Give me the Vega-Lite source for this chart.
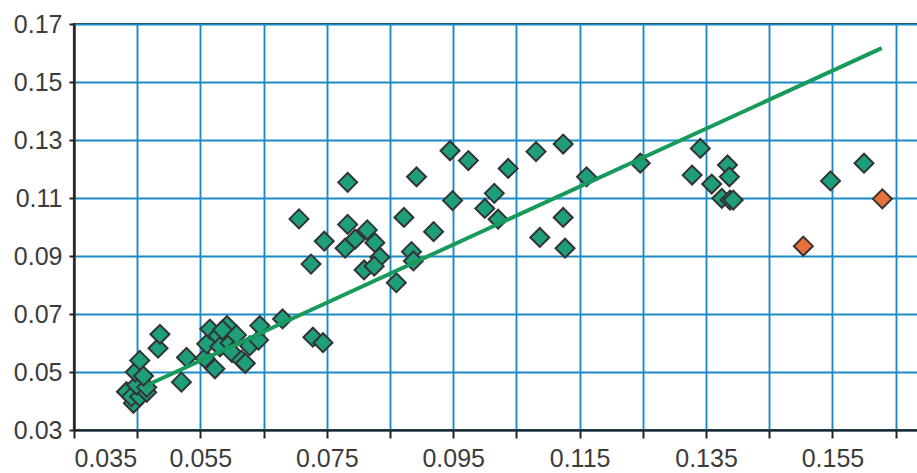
{
  "$schema": "https://vega.github.io/schema/vega-lite/v6.json",
  "width": 845,
  "height": 406,
  "autosize": "none",
  "padding": {"left": 74, "top": 24, "right": 0, "bottom": 43},
  "background": "white",
  "config": {
    "view": {"stroke": "#222222", "strokeWidth": 2.2},
    "axis": {
      "grid": true,
      "gridColor": "#1b8bc6",
      "gridWidth": 1.9,
      "gridOpacity": 1,
      "domainColor": "#222222",
      "domainWidth": 2.2,
      "tickColor": "#222222",
      "tickWidth": 2,
      "labelFont": "Liberation Sans",
      "labelFontSize": 25,
      "labelColor": "#3c3c3c",
      "title": null
    }
  },
  "layer": [
    {
      "data": {
        "values": [
          {"x": 0.0433, "y": 0.0432, "g": "a"},
          {"x": 0.0444, "y": 0.0392, "g": "a"},
          {"x": 0.0441, "y": 0.0415, "g": "a"},
          {"x": 0.0454, "y": 0.0415, "g": "a"},
          {"x": 0.0465, "y": 0.0430, "g": "a"},
          {"x": 0.0449, "y": 0.0455, "g": "a"},
          {"x": 0.0465, "y": 0.0447, "g": "a"},
          {"x": 0.0447, "y": 0.0500, "g": "a"},
          {"x": 0.0460, "y": 0.0486, "g": "a"},
          {"x": 0.0454, "y": 0.0540, "g": "a"},
          {"x": 0.0483, "y": 0.0582, "g": "a"},
          {"x": 0.0486, "y": 0.0630, "g": "a"},
          {"x": 0.0520, "y": 0.0465, "g": "a"},
          {"x": 0.0528, "y": 0.0550, "g": "a"},
          {"x": 0.0557, "y": 0.0547, "g": "a"},
          {"x": 0.0573, "y": 0.0511, "g": "a"},
          {"x": 0.0560, "y": 0.0597, "g": "a"},
          {"x": 0.0565, "y": 0.0648, "g": "a"},
          {"x": 0.0578, "y": 0.0625, "g": "a"},
          {"x": 0.0592, "y": 0.0660, "g": "a"},
          {"x": 0.0581, "y": 0.0587, "g": "a"},
          {"x": 0.0585, "y": 0.0645, "g": "a"},
          {"x": 0.0597, "y": 0.0600, "g": "a"},
          {"x": 0.0607, "y": 0.0628, "g": "a"},
          {"x": 0.0600, "y": 0.0567, "g": "a"},
          {"x": 0.0615, "y": 0.0541, "g": "a"},
          {"x": 0.0621, "y": 0.0530, "g": "a"},
          {"x": 0.0628, "y": 0.0590, "g": "a"},
          {"x": 0.0642, "y": 0.0610, "g": "a"},
          {"x": 0.0644, "y": 0.0660, "g": "a"},
          {"x": 0.0680, "y": 0.0683, "g": "a"},
          {"x": 0.0728, "y": 0.0620, "g": "a"},
          {"x": 0.0744, "y": 0.0601, "g": "a"},
          {"x": 0.0706, "y": 0.1028, "g": "a"},
          {"x": 0.0725, "y": 0.0872, "g": "a"},
          {"x": 0.0746, "y": 0.0951, "g": "a"},
          {"x": 0.0783, "y": 0.1154, "g": "a"},
          {"x": 0.0783, "y": 0.1009, "g": "a"},
          {"x": 0.0779, "y": 0.0927, "g": "a"},
          {"x": 0.0795, "y": 0.0958, "g": "a"},
          {"x": 0.0814, "y": 0.0990, "g": "a"},
          {"x": 0.0826, "y": 0.0946, "g": "a"},
          {"x": 0.0834, "y": 0.0896, "g": "a"},
          {"x": 0.0809, "y": 0.0852, "g": "a"},
          {"x": 0.0825, "y": 0.0865, "g": "a"},
          {"x": 0.0860, "y": 0.0808, "g": "a"},
          {"x": 0.0872, "y": 0.1033, "g": "a"},
          {"x": 0.0884, "y": 0.0915, "g": "a"},
          {"x": 0.0887, "y": 0.0883, "g": "a"},
          {"x": 0.0892, "y": 0.1173, "g": "a"},
          {"x": 0.0919, "y": 0.0984, "g": "a"},
          {"x": 0.0945, "y": 0.1263, "g": "a"},
          {"x": 0.0974, "y": 0.1229, "g": "a"},
          {"x": 0.0949, "y": 0.1091, "g": "a"},
          {"x": 0.1000, "y": 0.1064, "g": "a"},
          {"x": 0.1015, "y": 0.1116, "g": "a"},
          {"x": 0.1021, "y": 0.1027, "g": "a"},
          {"x": 0.1037, "y": 0.1202, "g": "a"},
          {"x": 0.1081, "y": 0.1260, "g": "a"},
          {"x": 0.1087, "y": 0.0964, "g": "a"},
          {"x": 0.1124, "y": 0.1286, "g": "a"},
          {"x": 0.1124, "y": 0.1033, "g": "a"},
          {"x": 0.1127, "y": 0.0927, "g": "a"},
          {"x": 0.1161, "y": 0.1173, "g": "a"},
          {"x": 0.1246, "y": 0.1220, "g": "a"},
          {"x": 0.1341, "y": 0.1271, "g": "a"},
          {"x": 0.1328, "y": 0.1179, "g": "a"},
          {"x": 0.1384, "y": 0.1214, "g": "a"},
          {"x": 0.1387, "y": 0.1173, "g": "a"},
          {"x": 0.1359, "y": 0.1148, "g": "a"},
          {"x": 0.1375, "y": 0.1099, "g": "a"},
          {"x": 0.1388, "y": 0.1093, "g": "a"},
          {"x": 0.1393, "y": 0.1093, "g": "a"},
          {"x": 0.1547, "y": 0.1159, "g": "a"},
          {"x": 0.1600, "y": 0.1220, "g": "a"},
          {"x": 0.1504, "y": 0.0934, "g": "b"},
          {"x": 0.1629, "y": 0.1097, "g": "b"}
        ]
      },
      "mark": {"type": "point", "shape": "diamond", "filled": true, "size": 360, "stroke": "#333333", "strokeWidth": 2, "opacity": 1},
      "encoding": {
        "x": {
          "field": "x", "type": "quantitative",
          "scale": {"domain": [0.035, 0.1687], "nice": false, "zero": false},
          "axis": {
            "values": [0.035, 0.045, 0.055, 0.065, 0.075, 0.085, 0.095, 0.105, 0.115, 0.125, 0.135, 0.145, 0.155, 0.165],
            "labelExpr": "round(datum.value * 1000) % 20 == 15 ? format(datum.value, '.3f') : ''",
            "tickSize": 8,
            "labelPadding": 8
          }
        },
        "y": {
          "field": "y", "type": "quantitative",
          "scale": {"domain": [0.03, 0.17], "nice": false, "zero": false},
          "axis": {
            "values": [0.03, 0.05, 0.07, 0.09, 0.11, 0.13, 0.15, 0.17],
            "format": ".2f",
            "tickSize": 5,
            "labelPadding": 7
          }
        },
        "color": {
          "field": "g", "type": "nominal",
          "scale": {"domain": ["a", "b"], "range": ["#1f9e7c", "#e8703a"]},
          "legend": null
        }
      }
    },
    {
      "data": {
        "values": [
          {"x": 0.0466, "y": 0.0455},
          {"x": 0.1628, "y": 0.1617}
        ]
      },
      "mark": {"type": "line", "color": "#179a5c", "strokeWidth": 4},
      "encoding": {
        "x": {"field": "x", "type": "quantitative"},
        "y": {"field": "y", "type": "quantitative"}
      }
    }
  ]
}
